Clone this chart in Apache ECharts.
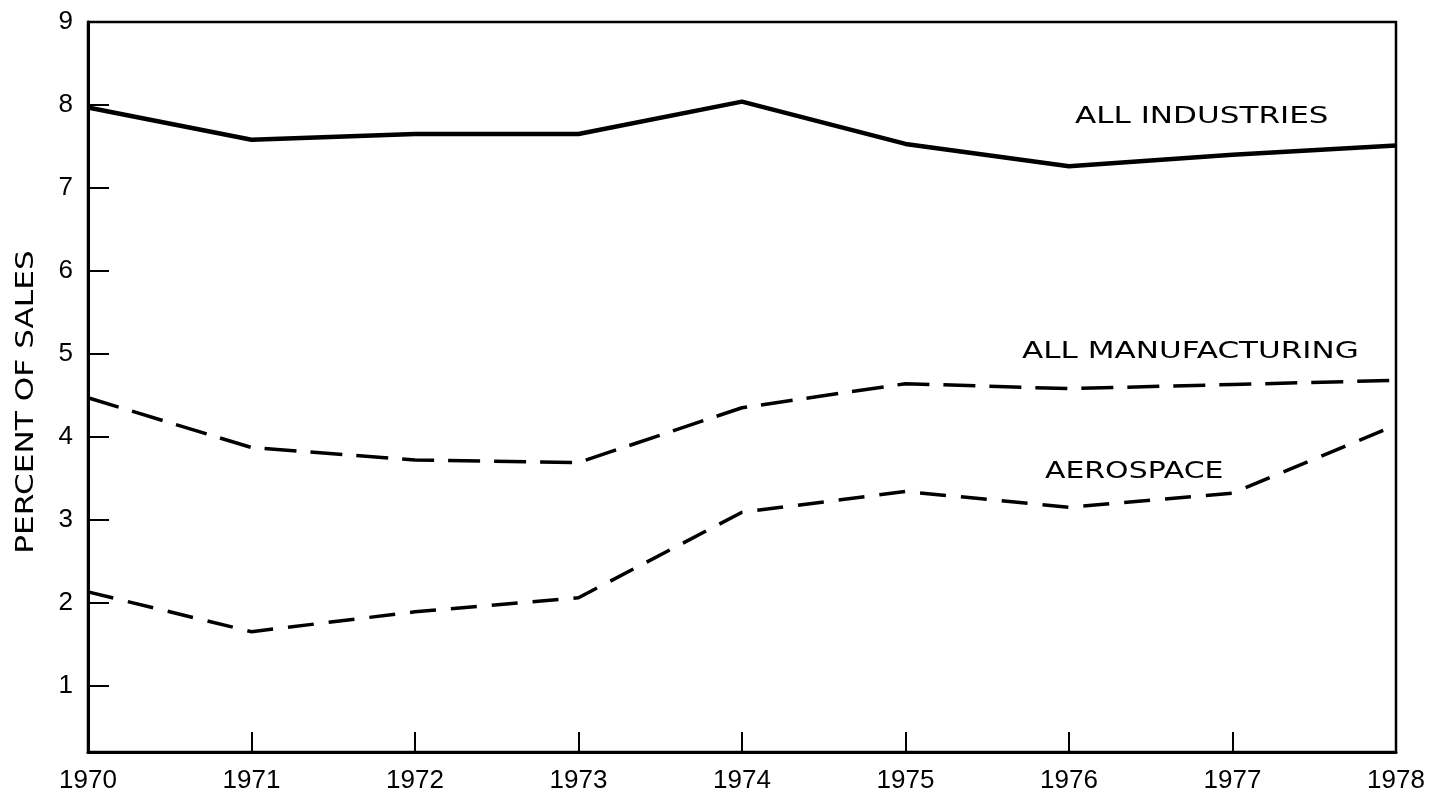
<!DOCTYPE html>
<html>
<head>
<meta charset="utf-8">
<title>Percent of sales</title>
<script src="https://cdn.jsdelivr.net/npm/echarts@6/dist/echarts.min.js"></script>
<style>
html, body { margin: 0; padding: 0; background: #fff; }
#chart { width: 1437px; height: 800px; }
</style>
</head>
<body>
<div id="chart"></div>
<script>
// years on the x axis
var years = ['1970', '1971', '1972', '1973', '1974', '1975', '1976', '1977', '1978'];
// y tick labels
var yTicks = [1, 2, 3, 4, 5, 6, 7, 8, 9];
// percent of sales
var allIndustries = [7.97, 7.58, 7.65, 7.65, 8.04, 7.53, 7.26, 7.4, 7.51];
var allManufacturing = [4.47, 3.87, 3.72, 3.69, 4.35, 4.64, 4.58, 4.63, 4.68];
var aerospace = [2.13, 1.65, 1.89, 2.06, 3.09, 3.34, 3.15, 3.32, 4.14];
var seriesNames = ['ALL INDUSTRIES', 'ALL MANUFACTURING', 'AEROSPACE'];

var numFont = '"Liberation Sans Narrow", sans-serif';
var labelFont = '"DejaVu Sans", sans-serif';

var myChart = echarts.init(document.getElementById('chart'));
myChart.setOption({
    backgroundColor: '#fff',
    animation: false,
    grid: {
        left: 88,
        right: 41,
        top: 22,
        bottom: 48,
        show: true,
        borderColor: '#000',
        borderWidth: 2.5
    },
    xAxis: {
        type: 'category',
        data: years,
        boundaryGap: false,
        axisLine: { lineStyle: { color: '#000', width: 3 } },
        axisTick: { inside: true, length: 20, lineStyle: { color: '#000', width: 2 } },
        axisLabel: { color: '#000', fontSize: 26, fontFamily: numFont, margin: 16 },
        splitLine: { show: false }
    },
    yAxis: {
        type: 'value',
        // the hand drawn frame sits a little above zero
        min: 0.2,
        max: 9,
        axisLine: { show: true, lineStyle: { color: '#000', width: 3 } },
        axisTick: {
            show: true, inside: true, length: 21,
            customValues: yTicks.slice(0, 8),
            lineStyle: { color: '#000', width: 2 }
        },
        axisLabel: {
            color: '#000', fontSize: 26, fontFamily: numFont, margin: 15,
            customValues: yTicks
        },
        splitLine: { show: false }
    },
    series: [{
        name: seriesNames[0],
        type: 'line',
        data: allIndustries,
        symbol: 'none',
        lineStyle: { color: '#000', width: 4.5 }
    }, {
        name: seriesNames[1],
        type: 'line',
        data: allManufacturing,
        symbol: 'none',
        lineStyle: { color: '#000', width: 3.5, type: [32, 14] }
    }, {
        name: seriesNames[2],
        type: 'line',
        data: aerospace,
        symbol: 'none',
        lineStyle: { color: '#000', width: 3.5, type: [26, 15] }
    }],
    graphic: [{
        type: 'text',
        x: 27,
        y: 402,
        rotation: Math.PI / 2,
        scaleX: 1.3,
        style: {
            text: 'PERCENT OF SALES', fill: '#000', font: '24px ' + labelFont,
            textAlign: 'center', textVerticalAlign: 'middle'
        }
    }, {
        type: 'text',
        x: 1075,
        y: 117,
        scaleX: 1.35,
        style: { text: seriesNames[0], fill: '#000', font: '23px ' + labelFont, textVerticalAlign: 'middle' }
    }, {
        type: 'text',
        x: 1022,
        y: 352,
        scaleX: 1.35,
        style: { text: seriesNames[1], fill: '#000', font: '23px ' + labelFont, textVerticalAlign: 'middle' }
    }, {
        type: 'text',
        x: 1045,
        y: 472,
        scaleX: 1.3,
        style: { text: seriesNames[2], fill: '#000', font: '23px ' + labelFont, textVerticalAlign: 'middle' }
    }]
});
</script>
</body>
</html>
